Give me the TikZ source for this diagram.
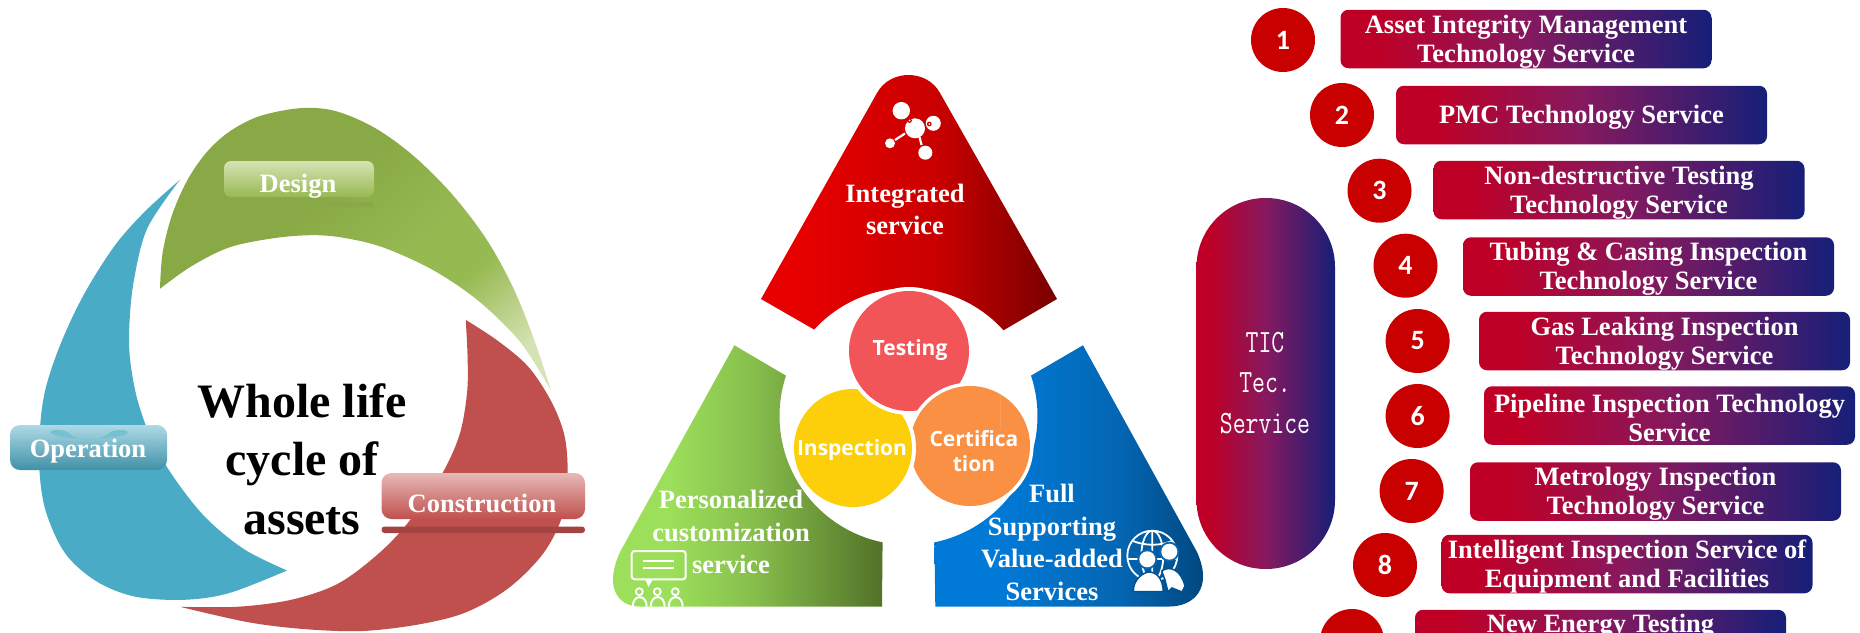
\documentclass[tikz,border=0pt]{standalone}
\usepackage{fontspec}
\setmainfont{Liberation Serif}
\newfontfamily\numfont{Carlito}
\newfontfamily\cfont{Open Sans}
\definecolor{ticA}{HTML}{BE0027}
\definecolor{ticM}{HTML}{86195F}
\definecolor{ticB}{HTML}{161F78}
\definecolor{redA}{HTML}{E60000}
\definecolor{redM}{HTML}{C80000}
\definecolor{redB}{HTML}{780000}
\definecolor{grnA}{HTML}{9CDF5A}
\definecolor{grnM}{HTML}{86BE4C}
\definecolor{grnB}{HTML}{527228}
\definecolor{bluA}{HTML}{0179D6}
\definecolor{bluM}{HTML}{0466B3}
\definecolor{bluB}{HTML}{00447A}
\definecolor{leafA}{HTML}{88A945}
\definecolor{leafB}{HTML}{97B952}
\definecolor{leafC}{HTML}{D6E3B4}
\definecolor{tealC}{HTML}{4AABC6}
\definecolor{brickC}{HTML}{C0504D}
\pgfdeclarehorizontalshading{ticshade}{100bp}{color(0bp)=(ticA); color(30bp)=(ticA); color(50bp)=(ticM); color(75bp)=(ticB); color(100bp)=(ticB)}
\pgfdeclarehorizontalshading{redshade}{100bp}{color(0bp)=(redA); color(33bp)=(redA); color(55bp)=(redM); color(75bp)=(redB); color(100bp)=(redB)}
\pgfdeclarehorizontalshading{grnshade}{100bp}{color(0bp)=(grnA); color(37bp)=(grnA); color(52bp)=(grnM); color(75bp)=(grnB); color(100bp)=(grnB)}
\pgfdeclarehorizontalshading{blushade}{100bp}{color(0bp)=(bluA); color(37bp)=(bluA); color(58bp)=(bluM); color(75bp)=(bluB); color(100bp)=(bluB)}
\pgfdeclarehorizontalshading{leafshade}{100bp}{color(0bp)=(leafA); color(40bp)=(leafA); color(56bp)=(leafB); color(64bp)=(leafB); color(78bp)=(leafC); color(100bp)=(leafC)}
\tikzset{
  techbox/.style={shade,shading=ticshade,rounded corners=8pt,minimum width=371pt,minimum height=58.5pt,inner sep=0pt},
  techlabel/.style={inner sep=0pt,text=white,align=center,font=\fontsize{26.5}{28.8}\selectfont\bfseries},
  numdot/.style={circle,fill=redM,minimum size=64pt,inner sep=0pt,text=white,font=\numfont\fontsize{28}{30}\selectfont\bfseries},
  hugelabel/.style={align=center,inner sep=0pt,font=\fontsize{48}{58.5}\selectfont\bfseries},
  whitelabel/.style={align=center,inner sep=0pt,text=white,font=\fontsize{26.5}{32.6}\selectfont\bfseries},
  disc/.style={circle,minimum size=120pt,inner sep=0pt},
  disclabel/.style={align=center,inner sep=0pt,text=white,font=\cfont\fontsize{21}{25}\selectfont\bfseries},
  iconline/.style={draw=white,line width=2pt,line cap=round},
}
\begin{document}
\begin{tikzpicture}[x=1pt,y=-1pt]
\useasboundingbox (0,0) rectangle (1860,632);
\clip (0,0) rectangle (1860,632);
% ---- left cycle
\begin{scope}[shift={(0,90)},x=0.3827pt,y=-0.34566pt]
\fill[tealC] plot[smooth,tension=.55] coordinates {(470,260)(380,350)(300,450)(220,590)(160,730)(120,860)(105,970)(103,1100)(120,1220)(170,1340)(250,1420)(350,1465)(480,1475)(600,1455)(750,1390)}
  -- plot[smooth,tension=.55] coordinates {(750,1390)(640,1330)(540,1240)(460,1130)(400,1020)(360,900)(340,780)(338,680)(350,550)(385,400)(470,260)} -- cycle;
\fill[brickC] plot[smooth,tension=.55] coordinates {(1217,665)(1300,725)(1380,800)(1440,900)(1475,1000)(1483,1110)(1470,1230)(1420,1340)(1330,1440)(1220,1510)(1100,1545)(950,1565)(800,1560)(650,1540)(470,1495)}
  -- plot[smooth,tension=.55] coordinates {(470,1495)(620,1495)(760,1475)(880,1430)(980,1350)(1060,1260)(1150,1120)(1200,1000)(1220,880)(1222,780)(1217,665)} -- cycle;
\shade[shading=leafshade,shading angle=-50] plot[smooth,tension=.55] coordinates {(418,575)(425,470)(450,360)(490,260)(540,180)(600,120)(680,75)(790,52)(880,62)(980,110)(1080,190)(1180,300)(1270,430)(1340,570)(1395,720)(1440,870)}
  -- plot[smooth,tension=.55] coordinates {(1440,870)(1360,730)(1250,610)(1130,520)(1000,455)(900,428)(820,420)(720,428)(600,455)(500,510)(418,575)} -- cycle;
\end{scope}
% buttons
\shade[rounded corners=7pt,top color=leafC,middle color=leafB,bottom color=leafB] (224,161) rectangle (374,197);
\fill[leafA,rounded corners=3pt] (224,202) rectangle (374,207);
\node[whitelabel] (design) at (298,186.5) {Design};
\shade[top color=tealC!45!white,middle color=tealC,bottom color=tealC!85!black,rounded corners=10pt] (10,425) rectangle (167,470);
\fill[tealC!75!white] (50,432) .. controls (52,429) and (66,429) .. (70,434) .. controls (76,441) and (100,441) .. (108,434) .. controls (112,429) and (126,429) .. (128,432) .. controls (126,441) and (54,441) .. (50,432);
\node[whitelabel] (operation) at (88,451) {Operation};
\shade[top color=brickC!40!white,middle color=brickC,bottom color=brickC,rounded corners=10pt] (381.5,473) rectangle (585,519);
\fill[brickC!85!black,rounded corners=3pt] (381.5,526.5) rectangle (585,533);
\node[whitelabel] (construction) at (482,503) {Construction};
\node[hugelabel] (whole) at (302,459) {Whole life\\cycle of\\assets};
% ---- middle trefoil
\shade[shading=redshade] (761,299) -- (877,93) .. controls (890,69) and (927,69) .. (940,93) -- (1057,299) -- (1004,330)
  -- plot[domain=-42:-137.5,samples=40,variable=\t]({908.5+128*cos(\t)},{416+128*sin(\t)}) -- cycle;
\shade[shading=grnshade] (734.4,345.3) -- (785.8,375.6)
  -- plot[domain=198:101.6,samples=40,variable=\t]({908.5+129*cos(\t)},{416+129*sin(\t)})
  -- (882,606.5) -- (639.5,606.5) .. controls (620,606.5) and (603,590) .. (620,552) -- cycle;
\shade[shading=blushade] (1083,345.3) -- (1031,375.6)
  -- plot[domain=-18:78.4,samples=40,variable=\t]({908.5+129*cos(\t)},{416+129*sin(\t)})
  -- (935.3,606.5) -- (1169.4,606.5) .. controls (1192,606.5) and (1214,590) .. (1197,552) -- cycle;
% discs (each overlaps the next)
\node[disc,fill=white,minimum size=127pt] (certback) at (970,446) {};
\node[disc,fill={rgb,255:red,250;green,144;blue,68}] (certdisc) at (970,446) {};
\node[disc,fill=white,minimum size=126pt] (inspback) at (853,448) {};
\node[disc,fill={rgb,255:red,252;green,207;blue,10},minimum size=118pt] (inspdisc) at (853,448) {};
\node[disc,fill=white,minimum size=128pt] (testback) at (909,351) {};
\node[disc,fill={rgb,255:red,242;green,85;blue,87}] (testdisc) at (909,351) {};
\begin{scope}
\clip (912,368) rectangle (1000,428);
\node[disc,fill=white,minimum size=127pt] (certback2) at (970,446) {};
\node[disc,fill={rgb,255:red,250;green,144;blue,68}] (certdisc2) at (970,446) {};
\end{scope}
\node[disclabel] (testing) at (910,350) {Testing};
\node[disclabel] (inspection) at (852,450) {Inspection};
\node[disclabel] (certification) at (974,451) {Certifica\\tion};
\node[whitelabel] (integrated) at (905,209.5) {Integrated\\service};
\node[whitelabel] (personal) at (731,532) {Personalized\\customization\\service};
\node[whitelabel] (full) at (1052,542.5) {Full\\Supporting\\Value-added\\Services};
% molecule icon
\fill[white] (901.3,110.7) circle (8.7) (915,128.3) circle (10) (933.3,123.3) circle (7.5) (890,143.3) circle (5) (925.3,152.7) circle (7);
\draw[white,line width=2.2pt] (895,140) -- (905,133.5) (919.5,137) -- (921.5,145);
\fill[redM] (909.5,120.5) circle (2.4) (929.3,124) circle (2.4);
\fill[white] (909.5,120.5) circle (1) (929.3,124) circle (1);
% chat icon
\draw[iconline,rounded corners=3pt] (631.7,551) rectangle (685.7,579.3);
\fill[white] (645,579) -- (648.5,587) -- (653,579) -- cycle;
\draw[white,line width=2pt] (642.7,560.7) -- (674,560.7) (642.7,568.3) -- (674,568.3);
\draw[white,line width=1.8pt] (639.3,591.7) circle (3.5) (657.3,591.7) circle (3.5) (675.3,591.7) circle (3.5);
\begin{scope}
\clip (625,590) rectangle (690,606.5);
\draw[white,line width=2pt] (632.7,606.5) .. controls (632.7,594) and (646.7,594) .. (646.7,606.5)
  (650.7,606.5) .. controls (650.7,594) and (664.7,594) .. (664.7,606.5)
  (668.7,606.5) .. controls (668.7,594) and (682.7,594) .. (682.7,606.5);
\end{scope}
% globe icon
\draw[white,line width=1.8pt] (1152.3,555.7) circle (25) (1152.3,555.7) ellipse (11 and 25) (1152.3,530.7) -- (1152.3,580.7) (1127.3,559) -- (1177.3,559);
\draw[white,line width=1.8pt] (1133,541) .. controls (1145,546) and (1160,546) .. (1172,541);
\fill[bluM] (1147.3,559.3) circle (10) (1169.3,551.7) circle (10);
\fill[white] (1147.3,559.3) circle (8) (1169.3,551.7) circle (8);
\filldraw[fill=white,draw=bluM!80!black,line width=1.5pt] (1161.7,571) .. controls (1170,565) and (1181,570) .. (1185,586) -- (1182,592) -- (1172,588) -- (1168,592) -- (1165,580) -- cycle;
\filldraw[fill=white,draw=bluM!80!black,line width=1.5pt] (1133.3,591.7) .. controls (1133,578) and (1145,572) .. (1149,572) .. controls (1156,572) and (1163,578) .. (1163.3,591.7) -- cycle;
% ---- TIC capsule
\shade[shading=ticshade,rounded corners=69pt] (1196.5,198) rectangle (1335,569);
\node[transform shape,yscale=1.3,align=center,inner sep=0pt,text=white,font=\ttfamily\fontsize{25}{31.2}\selectfont] (tic) at (1265,383) {TIC\\Tec.\\Service};
% ---- service list
\node[numdot] (n1) at (1283,40) {1};
\node[numdot] (n2) at (1342,115) {2};
\node[numdot] (n3) at (1379.5,190.7) {3};
\node[numdot] (n4) at (1405.5,265.7) {4};
\node[numdot] (n5) at (1417.6,341) {5};
\node[numdot] (n6) at (1417.6,416) {6};
\node[numdot] (n7) at (1411.6,491) {7};
\node[numdot] (n8) at (1385,565) {8};
\node[numdot] (n9) at (1352,641) {};
\node[techbox] (b1) at (1526,39) {};
\node[techbox] (b2) at (1581.5,115) {};
\node[techbox] (b3) at (1619,190) {};
\node[techbox] (b4) at (1648.5,266.5) {};
\node[techbox] (b5) at (1664.5,341) {};
\node[techbox] (b6) at (1669.5,415.5) {};
\node[techbox] (b7) at (1655.5,491.5) {};
\node[techbox] (b8) at (1627,564) {};
\node[techbox] (b9) at (1600.5,639) {};
\node[techlabel,yshift=-2.5pt] (t1) at (b1) {Asset Integrity Management\\Technology Service};
\node[techlabel,yshift=-2.5pt] (t2) at (b2) {PMC Technology Service};
\node[techlabel,yshift=-2.5pt] (t3) at (b3) {Non-destructive Testing\\Technology Service};
\node[techlabel,yshift=-2.5pt] (t4) at (b4) {Tubing \& Casing Inspection\\Technology Service};
\node[techlabel,yshift=-2.5pt] (t5) at (b5) {Gas Leaking Inspection\\Technology Service};
\node[techlabel,yshift=-2.5pt] (t6) at (b6) {Pipeline Inspection Technology\\Service};
\node[techlabel,yshift=-2.5pt] (t7) at (b7) {Metrology Inspection\\Technology Service};
\node[techlabel,yshift=-2.5pt] (t8) at (b8) {Intelligent Inspection Service of\\Equipment and Facilities};
\node[techlabel,anchor=base] (t9) at (1600.5,632) {New Energy Testing};
\end{tikzpicture}
\end{document}
